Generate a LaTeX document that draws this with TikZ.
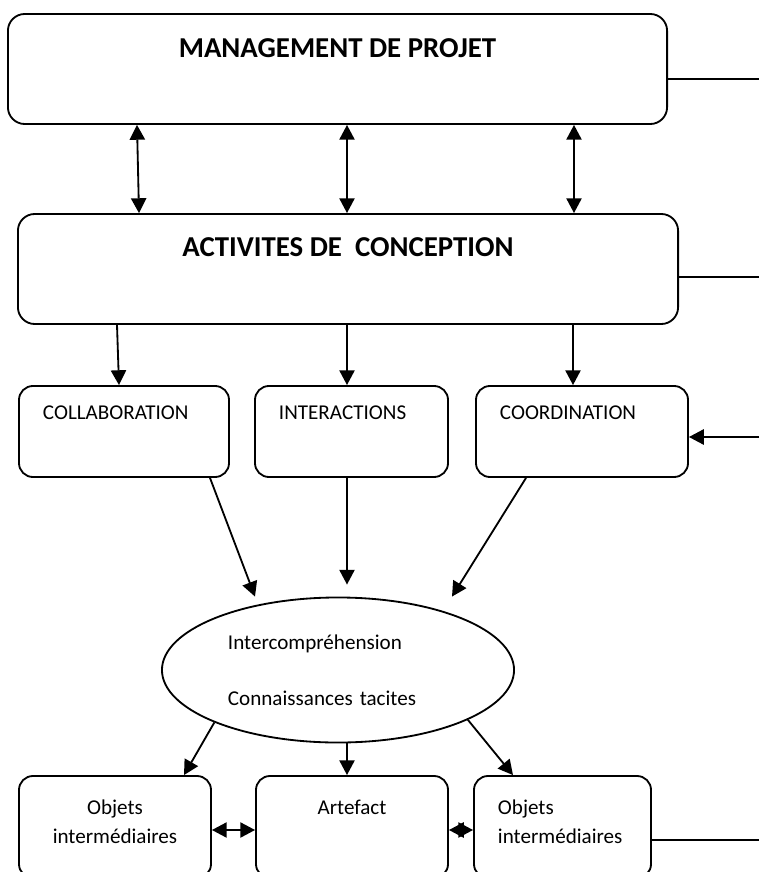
\documentclass[tikz,border=0pt]{standalone}
\usepackage{fontspec}
\setmainfont{Carlito}
\usetikzlibrary{arrows.meta,shapes.geometric}

\begin{document}
\begin{tikzpicture}[x=0.025cm,y=-0.025cm,
    line width=1.3pt,
    >={Triangle[length=0.37cm,width=0.38cm]},
    bigbox/.style={draw,rounded corners=0.42cm,inner sep=0pt,
      font=\fontsize{20.5}{24}\bfseries,text height=1.1cm,text depth=1.65cm},
    midbox/.style={draw,rounded corners=0.35cm,inner ysep=0pt,inner xsep=0.6cm,
      align=left,font=\fontsize{15}{21}\selectfont,
      text height=0.85cm,text depth=1.425cm},
    lowbox/.style={draw,rounded corners=0.35cm,inner ysep=0pt,
      font=\fontsize{15}{21}\selectfont,text height=0.95cm,text depth=1.6cm},
    ovalnode/.style={draw,ellipse,inner sep=0pt,align=left,
      font=\fontsize{15}{21}\selectfont}]
      \clip (0,0) rectangle (759,872);
      % boxes
      \node[bigbox,minimum width=16.475cm] (mgmt) at (337.5,69) {MANAGEMENT DE PROJET};
      \node[bigbox,minimum width=16.5cm,text height=1.075cm,text depth=1.675cm]
        (act) at (348,269) {ACTIVITES DE\ \ CONCEPTION};
      \node[midbox,text width=4.05cm] (collab) at (124,431.5) {COLLABORATION};
      \node[midbox,text width=3.625cm] (inter) at (351.5,431.5) {INTERACTIONS};
      \node[midbox,text width=4.1cm] (coord) at (582,431.5) {COORDINATION};
      \node[ovalnode,minimum width=8.8cm,minimum height=3.625cm,text width=5.5cm]
        (ell) at (338,670) {Intercompréhension\\[19pt]Connaissances tacites};
      \node[lowbox,inner xsep=0pt,text width=4.8cm,align=center]
        (objl) at (115,827) {Objets\\intermédiaires};
      \node[lowbox,minimum width=4.8cm] (artf) at (352,827) {Artefact};
      \node[lowbox,inner xsep=0.6cm,text width=3.225cm,align=left]
        (objr) at (562.5,827) {Objets\\intermédiaires};
      % free ends on the right
      \coordinate (m-out) at (759,79);
      \coordinate (a-out) at (759,277);
      \coordinate (c-in) at (759,437);
      \coordinate (o-out) at (759,840);
      \draw (mgmt.east |- m-out) -- (m-out);
      \draw (act.east |- a-out) -- (a-out);
      \draw (objr.east |- o-out) -- (o-out);
      \begin{scope}[<->]
        \draw (mgmt.south -| 137,0) to (act.north -| 139,0);
        \draw (mgmt.south -| 347,0) to (act.north -| 347,0);
        \draw (mgmt.south -| 574,0) to (act.north -| 574,0);
        \draw (objl.east |- 0,830) to (artf.west |- 0,830);
        \draw (artf.east |- 0,830) to (objr.west |- 0,830);
      \end{scope}
      \begin{scope}[->]
        \draw (act.south -| 117,0) to (collab.north -| 119,0);
        \draw (act.south -| 347,0) to (inter.north -| 347,0);
        \draw (act.south -| 573,0) to (coord.north -| 573,0);
        \draw (c-in) to (coord.east |- c-in);
        \draw (collab.south -| 210,0) to (ell.north -| 255,0);
        \draw (inter.south -| 347,0) to ([yshift=0.3cm]ell.north -| 347,0);
        \draw (coord.south -| 526,0) to (ell.north -| 452,0);
        \draw (ell.203) to (objl.north -| 184,0);
        \draw (ell.south -| 347,0) to (artf.north -| 347,0);
        \draw (ell.339) to (objr.north -| 513,0);
      \end{scope}
    \end{tikzpicture}
\end{document}
